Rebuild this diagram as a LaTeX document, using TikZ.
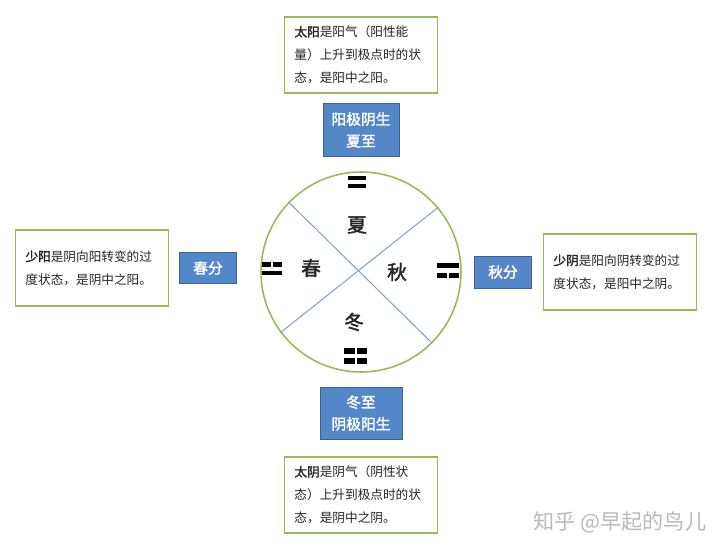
\documentclass[tikz,border=0pt]{standalone}
\usepackage{fontspec}
\setmainfont{Noto Sans CJK SC}[AutoFakeBold=2]
\usetikzlibrary{shapes.geometric}
\definecolor{boxblue}{RGB}{84,135,200}
\definecolor{edgeblue}{RGB}{62,100,148}
\definecolor{leaf}{RGB}{150,185,90}
\definecolor{cutline}{RGB}{125,158,206}
\tikzstyle{blue} = [rectangle, draw=edgeblue, line width=0.6pt, fill=boxblue, text=white,
align=center, font=\fontsize{10.5}{15.5}\selectfont\bfseries]
\tikzstyle{green} = [rectangle, draw=leaf, line width=0.9pt, fill=white, text=black!85,
minimum width=3.825cm, minimum height=1.9cm, text width=3.325cm, inner xsep=0.25cm,
inner ysep=0.1cm, align=left, font=\fontsize{9}{16.5}\selectfont]
\tikzstyle{wheel} = [circle, draw=leaf, line width=1.1pt, minimum size=5cm, inner sep=0pt]
\tikzstyle{cut} = [draw=cutline, line width=0.7pt]
\tikzstyle{season} = [font=\fontsize{14}{14}\selectfont\bfseries, text=black!85]
% one line of a digram: #1 height, #2 = 1 yang / 0 yin
\newcommand\yaoline[2]{\ifnum#2=1
  \fill (-0.2625,#1-0.0625) rectangle (0.2625,#1+0.0625);
  \else
  \fill (-0.2625,#1-0.0625) rectangle (-0.025,#1+0.0625);
  \fill (0.025,#1-0.0625) rectangle (0.2625,#1+0.0625);
  \fi}
% #1 size, #2 centre, #3 upper line, #4 lower line
\newcommand\digram[4][1]{\begin{scope}[shift={(#2)}, scale=#1]
  \yaoline{0.1125}{#3}\yaoline{-0.1125}{#4}
  \end{scope}}

\begin{document}
\begin{tikzpicture}[node distance=1.2cm]
\fill[white] (-9.025,-7.05) rectangle (8.975,6.8);
\useasboundingbox (-9.025,-7.05) rectangle (8.975,6.8);

\node (c)[wheel] at (0,0){};
\draw [cut](c.136) -- (c.315);
\draw [cut](c.40) -- (c.217);

\node (xia)[season, above of=c, xshift=-0.1cm, yshift=-0.025cm]{夏};
\node (dong)[season, below of=c, xshift=-0.175cm, yshift=-0.05cm]{冬};
\node (chun)[season, left of=c, xshift=-0.05cm, yshift=0.1cm]{春};
\node (qiu)[season, right of=c, xshift=-0.3cm]{秋};

\coordinate (g1) at ([xshift=-0.1cm, yshift=2.25cm]c.center);
\coordinate (g2) at ([xshift=-2.225cm, yshift=0.08cm]c.center);
\coordinate (g3) at ([xshift=2.175cm, yshift=0.04cm]c.center);
\coordinate (g4) at ([xshift=-0.13cm, yshift=-2.1cm]c.center);
\digram[0.87]{g1}{1}{1}
\digram[0.92]{g2}{0}{1}
\digram[1.05]{g3}{1}{0}
\digram[1.1]{g4}{0}{0}

\node (xz)[blue, node distance=3.55cm, above of=c, minimum width=1.9cm, minimum height=1.325cm]{阳极阴生\\夏至};
\node (dz)[blue, node distance=3.525cm, below of=c, minimum width=2.05cm, minimum height=1.3cm]{冬至\\阴极阳生};
\node (cf)[blue, node distance=3.825cm, left of=c, yshift=0.1cm, minimum width=1.425cm, minimum height=0.775cm]{春分};
\node (qf)[blue, node distance=3.55cm, right of=c, minimum width=1.425cm, minimum height=0.8cm]{秋分};

\node (ty)[green, node distance=1.875cm, above of=xz]{\textbf{太阳}是阳气（阳性能\\量）上升到极点时的状\\态，是阳中之阳。};
\node (tyin)[green, node distance=2.05cm, below of=dz]{\textbf{太阴}是阴气（阴性状\\态）上升到极点时的状\\态，是阴中之阴。};
\node (sy)[green, node distance=2.9cm, left of=cf]{\textbf{少阳}是阴向阳转变的过\\度状态，是阴中之阳。};
\node (sq)[green, node distance=2.925cm, right of=qf]{\textbf{少阴}是阳向阴转变的过\\度状态，是阳中之阴。};

\node (wm)[text=gray!55, font=\fontsize{15}{15}\selectfont] at (6.475,-6.25){知乎 @早起的鸟儿};
\end{tikzpicture}
\end{document}
